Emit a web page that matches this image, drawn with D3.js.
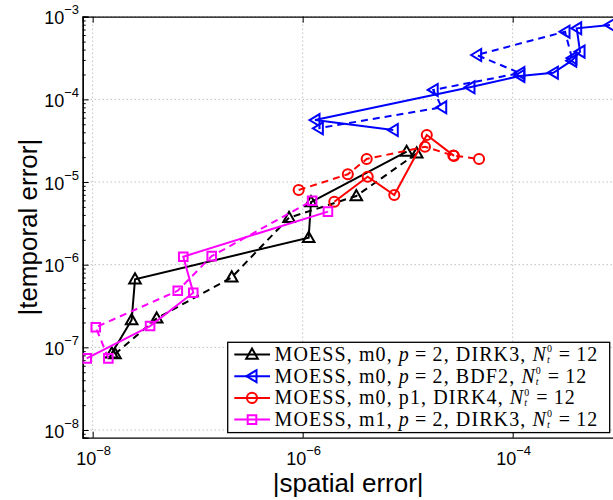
<!DOCTYPE html>
<html>
<head>
<meta charset="utf-8">
<script src="https://cdn.jsdelivr.net/npm/d3@7"></script>
<style>
  html, body { margin: 0; padding: 0; background: #fff; }
  svg { display: block; }
</style>
</head>
<body>
<svg id="chart" width="613" height="500"></svg>
<script>
// ---------------- data ----------------
const xTicks = [1e-8, 1e-6, 1e-4];
const xTickExps = ["−8", "−6", "−4"];
const yTicks = [1e-3, 1e-4, 1e-5, 1e-6, 1e-7, 1e-8];
const yTickExps = ["−3", "−4", "−5", "−6", "−7", "−8"];

// MOESS, m0, p=2, DIRK3 (black)
const dirk3SolidX = [1.52e-8, 2.35e-8, 2.53e-8, 1.14e-6, 1.20e-6, 9.77e-6];
const dirk3SolidY = [8.47e-8, 2.14e-7, 6.65e-7, 2.12e-6, 5.73e-6, 2.33e-5];
const dirk3DashX  = [1.63e-8, 4.07e-8, 2.11e-7, 7.41e-7, 3.24e-6, 1.22e-5];
const dirk3DashY  = [8.30e-8, 2.24e-7, 7.03e-7, 3.70e-6, 6.78e-6, 2.22e-5];

// MOESS, m0, p=2, BDF2 (blue)
const bdf2SolidX = [8.45e-4, 4.07e-4, 4.38e-4, 3.65e-4, 2.44e-4, 1.17e-4, 3.92e-5, 1.31e-6, 7.29e-6];
const bdf2SolidY = [7.94e-4, 7.24e-4, 3.78e-4, 2.94e-4, 2.10e-4, 1.92e-4, 1.40e-4, 5.62e-5, 4.26e-5];
const bdf2DashX  = [3.67e-4, 3.15e-4, 4.54e-5, 1.17e-4, 1.75e-5, 2.11e-5, 1.41e-6];
const bdf2DashY  = [3.16e-4, 6.59e-4, 3.44e-4, 2.08e-4, 1.30e-4, 8.02e-5, 4.47e-5];

// MOESS, m0, p1, DIRK4 (red)
const dirk4SolidX = [2.00e-6, 4.16e-6, 7.45e-6, 1.52e-5, 2.76e-5];
const dirk4SolidY = [5.78e-6, 1.16e-5, 6.97e-6, 3.71e-5, 2.07e-5];
const dirk4DashX  = [9.16e-7, 2.69e-6, 4.07e-6, 1.46e-5, 2.72e-5, 4.78e-5];
const dirk4DashY  = [8.00e-6, 1.24e-5, 1.90e-5, 2.67e-5, 2.09e-5, 1.90e-5];

// MOESS, m1, p=2, DIRK3 (magenta)
const m1SolidX = [8.77e-9, 3.52e-8, 9.08e-8, 7.29e-8, 1.74e-6];
const m1SolidY = [7.36e-8, 1.81e-7, 4.58e-7, 1.25e-6, 4.38e-6];
const m1DashX  = [1.41e-8, 1.07e-8, 6.46e-8, 1.36e-7, 1.23e-6];
const m1DashY  = [7.36e-8, 1.75e-7, 4.84e-7, 1.27e-6, 5.94e-6];

const legendLabels = [
  {pre: "MOESS, m0, ", p: true,  mid: "DIRK3"},
  {pre: "MOESS, m0, ", p: true,  mid: "BDF2"},
  {pre: "MOESS, m0, p1, ", p: false, mid: "DIRK4"},
  {pre: "MOESS, m1, ", p: true,  mid: "DIRK3"}
];

// ---------------- layout ----------------
const L = 82.7, T = 16.7, R = 617.7, B = 437.7;
const svg = d3.select("#chart");

const x = d3.scaleLog().domain([Math.pow(10, -8.095), 1e-3]).range([L, R]);
const y = d3.scaleLog().domain([Math.pow(10, -8.093), 1e-3]).range([B, T]);

const tickFont = "'Liberation Sans', Arial, Helvetica, sans-serif";
const serif = "'Liberation Serif', 'Times New Roman', serif";

// grid
const grid = svg.append("g").attr("stroke", "#a0a0a0").attr("stroke-width", 1)
  .attr("stroke-dasharray", "1,3");
xTicks.forEach(v => grid.append("line")
  .attr("x1", x(v)).attr("x2", x(v)).attr("y1", T).attr("y2", B));
yTicks.forEach(v => grid.append("line")
  .attr("x1", L).attr("x2", R).attr("y1", y(v)).attr("y2", y(v)));

// axes with d3
const axB = d3.axisBottom(x).tickValues(xTicks).tickSize(-6).tickFormat("");
const axT = d3.axisTop(x).tickValues(xTicks).tickSize(-6).tickFormat("");
const yMinor = [];
for (let e = -9; e < -3; e++) for (let k = 1; k <= 9; k++) {
  const v = k * Math.pow(10, e);
  if (v >= y.domain()[0] && v <= 1e-3) yMinor.push(v);
}
const axLmin = d3.axisLeft(y).tickValues(yMinor.filter(v => !yTicks.some(t => Math.abs(t - v) / t < 1e-6))).tickSize(-3).tickFormat("");
const axL = d3.axisLeft(y).tickValues(yTicks).tickSize(-6).tickFormat("");

function styleAxis(g) {
  g.selectAll("path").attr("stroke", "#000").attr("stroke-width", 1.3);
  g.selectAll("line").attr("stroke", "#000").attr("stroke-width", 1);
}
svg.append("g").attr("transform", `translate(0,${B})`).call(axB).call(styleAxis);
svg.append("g").attr("transform", `translate(0,${T})`).call(axT).call(styleAxis);
svg.append("g").attr("transform", `translate(${L},0)`).call(axLmin).call(styleAxis);
svg.append("g").attr("transform", `translate(${L},0)`).call(axL).call(styleAxis);
svg.append("line").attr("x1", R).attr("x2", R).attr("y1", T).attr("y2", B)
  .attr("stroke", "#000").attr("stroke-width", 1.3);

// tick labels
xTicks.forEach((v, i) => {
  const t = svg.append("text").attr("x", x(v) + 1).attr("y", 465)
    .attr("text-anchor", "middle").attr("font-family", tickFont).attr("font-size", 18);
  t.append("tspan").text("10");
  t.append("tspan").attr("dy", -10).attr("font-size", 13).text(xTickExps[i]);
});
yTicks.forEach((v, i) => {
  const t = svg.append("text").attr("x", 79).attr("y", y(v) + 7.5)
    .attr("text-anchor", "end").attr("font-family", tickFont).attr("font-size", 18);
  t.append("tspan").text("10");
  t.append("tspan").attr("dy", -10).attr("font-size", 13).text(yTickExps[i]);
});

// axis labels
svg.append("text").attr("x", (L + R) / 2 - 2).attr("y", 492)
  .attr("text-anchor", "middle").attr("font-family", tickFont).attr("font-size", 26)
  .text("|spatial error|");
svg.append("text").attr("transform", `translate(37,${(T + B) / 2}) rotate(-90)`)
  .attr("text-anchor", "middle").attr("font-family", tickFont).attr("font-size", 26)
  .text("|temporal error|");

// markers
const markers = {
  up: "M0,-6L5.8,4.2L-5.8,4.2Z",
  left: "M-5.5,0L4.5,-6L4.5,6Z",
  circle: d3.symbol(d3.symbolCircle, 80)(),
  square: "M-4.3,-4.3H4.3V4.3H-4.3Z"
};

const series = [
  {xs: dirk3SolidX, ys: dirk3SolidY, color: "#000000", dash: null, m: "up"},
  {xs: dirk3DashX,  ys: dirk3DashY,  color: "#000000", dash: "7,5", m: "up"},
  {xs: bdf2SolidX,  ys: bdf2SolidY,  color: "#0000ff", dash: null, m: "left"},
  {xs: bdf2DashX,   ys: bdf2DashY,   color: "#0000ff", dash: "7,5", m: "left"},
  {xs: dirk4SolidX, ys: dirk4SolidY, color: "#ff0000", dash: null, m: "circle"},
  {xs: dirk4DashX,  ys: dirk4DashY,  color: "#ff0000", dash: "7,5", m: "circle"},
  {xs: m1SolidX,    ys: m1SolidY,    color: "#ff00ff", dash: null, m: "square"},
  {xs: m1DashX,     ys: m1DashY,     color: "#ff00ff", dash: "7,5", m: "square"}
];

svg.append("defs").append("clipPath").attr("id", "clip")
  .append("rect").attr("x", L).attr("y", T).attr("width", R - L).attr("height", B - T);
const plot = svg.append("g").attr("clip-path", "url(#clip)");
const line = d3.line().x(d => x(d[0])).y(d => y(d[1]));

series.forEach(s => {
  const pts = s.xs.map((v, i) => [v, s.ys[i]]);
  plot.append("path").attr("d", line(pts)).attr("fill", "none")
    .attr("stroke", s.color).attr("stroke-width", 2)
    .attr("stroke-dasharray", s.dash);
  plot.selectAll(null).data(pts).enter().append("path")
    .attr("d", markers[s.m])
    .attr("transform", d => `translate(${x(d[0])},${y(d[1])})`)
    .attr("fill", "none").attr("stroke", s.color).attr("stroke-width", 2);
});

// legend
const legColors = ["#000000", "#0000ff", "#ff0000", "#ff00ff"];
const legMarks = ["up", "left", "circle", "square"];
const lg = svg.append("g");
lg.append("rect").attr("x", 227.7).attr("y", 342.3).attr("width", 382).attr("height", 90.3)
  .attr("fill", "#fff").attr("stroke", "#000").attr("stroke-width", 1.3);
const rowY = [354.5, 376.2, 397.9, 419.6];
legendLabels.forEach((lab, i) => {
  const yy = rowY[i];
  lg.append("line").attr("x1", 234.3).attr("x2", 270).attr("y1", yy).attr("y2", yy)
    .attr("stroke", legColors[i]).attr("stroke-width", 2);
  lg.append("path").attr("d", markers[legMarks[i]])
    .attr("transform", `translate(252,${yy})`)
    .attr("fill", "none").attr("stroke", legColors[i]).attr("stroke-width", 2);
  const t = lg.append("text").attr("x", 274.5).attr("y", yy + 6.5)
    .attr("font-family", serif).attr("font-size", 20).attr("letter-spacing", 1.1);
  t.append("tspan").text(lab.pre);
  if (lab.p) {
    t.append("tspan").attr("font-style", "italic").text("p");
    t.append("tspan").text("\u2009=\u20092, ");
  }
  t.append("tspan").text(lab.mid + ", ");
  t.append("tspan").attr("font-style", "italic").text("N");
  t.append("tspan").attr("font-size", 10).attr("letter-spacing", 0.5).attr("dy", -8.8).text("0");
  t.append("tspan").attr("font-size", 10).attr("letter-spacing", 0.5).attr("font-style", "italic")
    .attr("dx", -5.5).attr("dy", 10.8).text("t");
  t.append("tspan").attr("dy", -2).attr("dx", 3.5).text("\u2009=\u200912");
});
</script>
</body>
</html>
